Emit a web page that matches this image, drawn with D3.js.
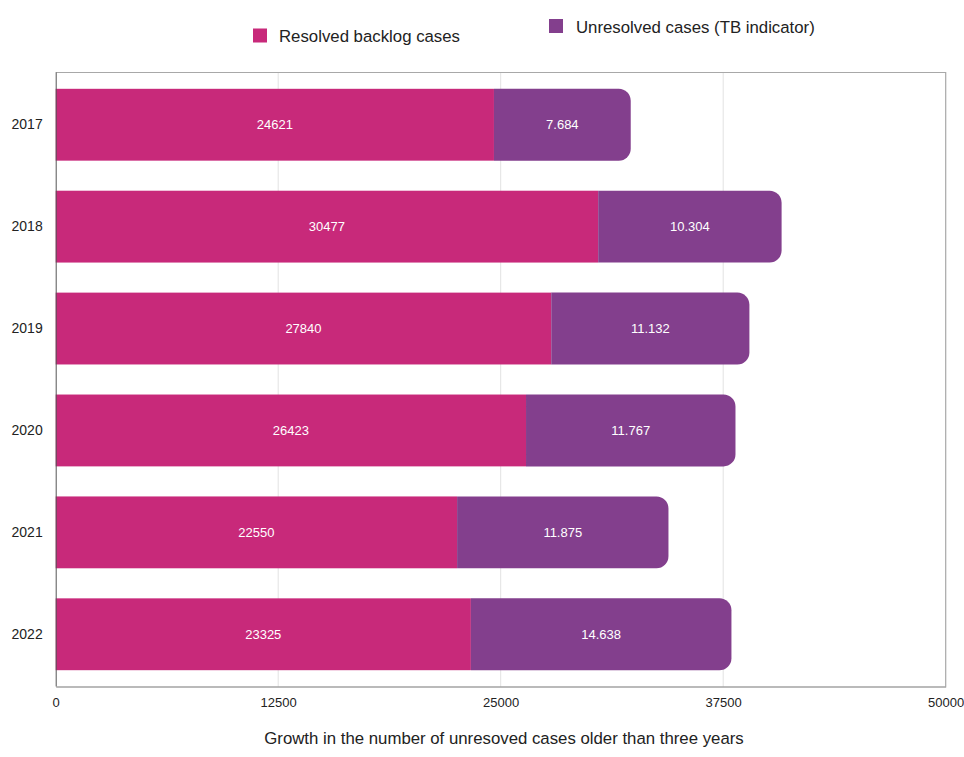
<!DOCTYPE html>
<html>
<head>
<meta charset="utf-8">
<script src="https://cdn.jsdelivr.net/npm/d3@7"></script>
<style>
  html, body { margin: 0; padding: 0; background: #fff; }
  svg { display: block; font-family: "Liberation Sans", Arial, sans-serif; }
</style>
</head>
<body>
<svg id="chart" width="964" height="757"></svg>
<script>
// Backlog of cases older than three years, per year
const years = ["2017", "2018", "2019", "2020", "2021", "2022"];
const resolved = [24621, 30477, 27840, 26423, 22550, 23325];
const unresolved = [7684, 10304, 11132, 11767, 11875, 14638];
const xTicks = [0, 12500, 25000, 37500, 50000];
const seriesNames = ["Resolved backlog cases", "Unresolved cases (TB indicator)"];
const seriesColors = ["#C8297A", "#833F8D"];
const axisTitle = "Growth in the number of unresoved cases older than three years";

const svg = d3.select("#chart");
const plot = { left: 55.7, right: 945.7, top: 72.5, bottom: 686.5 };

const x = d3.scaleLinear().domain([0, 50000]).range([plot.left, plot.right]);
const y = d3.scaleBand().domain(years).range([plot.top, plot.bottom])
  .paddingInner(0.295).paddingOuter(0.16);

// vertical gridlines
svg.append("g").selectAll("line").data(xTicks.slice(1, -1)).join("line")
  .attr("x1", d => x(d)).attr("x2", d => x(d))
  .attr("y1", plot.top).attr("y2", plot.bottom)
  .attr("stroke", "#e2e2e2").attr("stroke-width", 1);

// frame: top and right
svg.append("path")
  .attr("d", `M${plot.left},${plot.top}H${plot.right}V${plot.bottom}`)
  .attr("fill", "none").attr("stroke", "#a8a8a8").attr("stroke-width", 1.2);

const rows = years.map((yr, i) => ({ yr, a: resolved[i], b: unresolved[i] }));
const bh = y.bandwidth();
const r = 12;

// resolved segment
svg.append("g").selectAll("rect").data(rows).join("rect")
  .attr("x", x(0)).attr("y", d => y(d.yr))
  .attr("width", d => x(d.a) - x(0)).attr("height", bh)
  .attr("fill", seriesColors[0]);

// unresolved segment, rounded at the outer end
svg.append("g").selectAll("path").data(rows).join("path")
  .attr("d", d => {
    const x0 = x(d.a), x1 = x(d.a + d.b), y0 = y(d.yr), y1 = y0 + bh;
    return `M${x0},${y0}H${x1 - r}A${r},${r} 0 0 1 ${x1},${y0 + r}V${y1 - r}A${r},${r} 0 0 1 ${x1 - r},${y1}H${x0}Z`;
  })
  .attr("fill", seriesColors[1]);

// value labels
const fmtDot = d3.formatLocale({ decimal: ",", thousands: ".", grouping: [3], currency: ["", ""] }).format(",d");
svg.append("g").selectAll("text").data(rows).join("text")
  .attr("x", d => (x(0) + x(d.a)) / 2).attr("y", d => y(d.yr) + bh / 2)
  .attr("dy", "0.35em").attr("text-anchor", "middle")
  .attr("fill", "#fff").attr("font-size", 13)
  .text(d => d.a);
svg.append("g").selectAll("text").data(rows).join("text")
  .attr("x", d => (x(d.a) + x(d.a + d.b)) / 2).attr("y", d => y(d.yr) + bh / 2)
  .attr("dy", "0.35em").attr("text-anchor", "middle")
  .attr("fill", "#fff").attr("font-size", 13)
  .text(d => fmtDot(d.b));

// y axis
const yAxis = svg.append("g").attr("transform", `translate(${plot.left},0)`)
  .call(d3.axisLeft(y).tickSize(0).tickPadding(13));
yAxis.select(".domain").attr("stroke", "#555").attr("d", `M0.5,${plot.top}V${plot.bottom}`);
yAxis.selectAll("text").attr("font-size", 14).attr("fill", "#222")
  .attr("font-family", "Liberation Sans, Arial, sans-serif");

// x axis
const xAxis = svg.append("g").attr("transform", `translate(0,${plot.bottom})`)
  .call(d3.axisBottom(x).tickValues(xTicks).tickSize(0).tickPadding(11).tickFormat(d3.format("d")));
xAxis.select(".domain").attr("stroke", "#777").attr("stroke-width", 1.2);
xAxis.selectAll("text").attr("font-size", 13).attr("fill", "#222")
  .attr("font-family", "Liberation Sans, Arial, sans-serif");

// axis title
svg.append("text").attr("x", 504).attr("y", 744).attr("text-anchor", "middle")
  .attr("font-size", 16.8).attr("fill", "#222").text(axisTitle);

// legend
const legendPos = [{ sx: 253, sy: 28.5, tx: 279, ty: 42 }, { sx: 549, sy: 19, tx: 576, ty: 33 }];
const lg = svg.append("g").selectAll("g").data(seriesNames).join("g");
lg.append("rect")
  .attr("x", (d, i) => legendPos[i].sx).attr("y", (d, i) => legendPos[i].sy)
  .attr("width", 14).attr("height", 14)
  .attr("fill", (d, i) => seriesColors[i]);
lg.append("text")
  .attr("x", (d, i) => legendPos[i].tx).attr("y", (d, i) => legendPos[i].ty)
  .attr("font-size", 16.8).attr("fill", "#222").text(d => d);
</script>
</body>
</html>
